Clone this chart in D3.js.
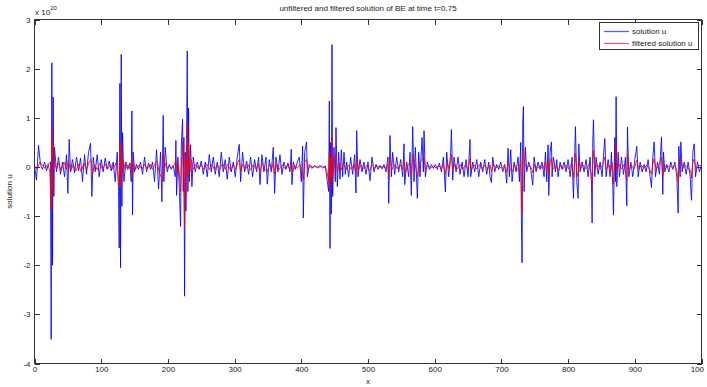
<!DOCTYPE html>
<html>
<head>
<meta charset="utf-8">
<script src="https://cdn.jsdelivr.net/npm/d3@7"></script>
<style>
	body { margin: 0; background: #fff; }
	svg { font-family: "Liberation Sans", Arial, sans-serif; }
	.axis text { font-size: 8px; fill: #222; }
	.axis line { stroke: #333; }
</style>
</head>
<body>
<div id="chartDiv"></div>
<script>
// solution u (unfiltered), [x, u / 1e20]
var solutionU = [
	[0,0.03],[3,-0.27],[6,0.44],[9,0.05],[12,-0.05],[15,0.1],[18,-0.08],[21,0.06],[24,0.1],
	[25,-3.51],[26,2.12],[27,-2.0],[28,1.42],[29,-0.6],[30,0.4],
	[33,-0.1],[36,0.2],[39,-0.15],[42,0.1],[45,-0.2],[48,0.25],[50,-0.54],[52,0.56],[54,-0.1],[57,0.15],
	[60,-0.12],[63,0.2],[66,-0.08],[69,0.18],[72,-0.3],[75,0.25],[78,-0.15],[81,0.3],[84,0.48],[86,-0.6],
	[88,0.2],[91,-0.1],[94,0.25],[97,-0.2],[100,0.15],[103,-0.1],[106,0.18],[109,-0.05],[112,0.12],[115,-0.08],
	[118,0.1],[121,-0.3],[124,0.3],[126,-0.5],
	[127,-1.65],[128,1.7],[129,-2.05],[130,2.29],[131,-0.8],[132,0.7],[134,-0.3],
	[137,0.1],[140,-0.05],[143,0.08],[145,-0.3],[146,1.14],[147,-0.98],[148,0.3],[150,-0.1],[153,0.05],
	[156,-0.05],[159,0.1],[162,-0.15],[165,0.2],[168,-0.1],[171,0.08],[174,-0.05],[177,0.1],[180,-0.3],
	[183,0.35],[186,-0.45],[189,0.3],[191,-0.71],[193,1.05],[194,-0.3],[196,0.4],[199,-0.1],[202,0.05],
	[205,-0.05],[208,0.03],[211,-0.2],[212,0.54],[213,-0.58],[215,0.2],[217,-0.4],
	[219,-1.21],[220,0.4],[222,0.97],[223,-0.5],[224,0.6],[225,-2.63],[226,0.3],[227,-0.9],[228,0.5],
	[229,2.36],[230,-0.5],[231,1.2],[232,-0.3],[234,0.45],[236,-0.4],[238,0.2],[241,-0.1],[244,0.1],
	[247,-0.05],[250,0.12],[253,-0.15],[256,0.1],[259,-0.2],[262,0.25],[265,-0.1],[268,0.2],[271,-0.15],
	[274,0.1],[277,-0.2],[280,0.3],[283,-0.1],[286,0.15],[289,-0.25],[292,0.2],[295,-0.1],[298,0.1],
	[301,-0.2],[304,0.2],[307,0.46],[309,-0.3],[312,0.3],[315,-0.1],[318,0.12],[321,-0.15],[324,0.2],
	[327,-0.2],[330,0.15],[333,-0.1],[336,0.2],[338,-0.36],[341,0.25],[344,-0.1],[347,0.2],[349,-0.35],
	[352,0.15],[355,-0.1],[358,0.4],[360,-0.54],[362,0.2],[365,-0.1],[368,0.25],[371,-0.15],[374,0.1],
	[377,-0.05],[380,0.08],[383,-0.1],[385,0.36],[386,-0.36],[388,0.1],[391,-0.05],[394,0.1],[397,0.2],
	[400,-0.3],[402,0.42],[403,-1.04],[405,0.3],[408,0.51],[409,-0.2],[412,0.05],[416,-0.03],[420,0.03],
	[424,-0.02],[428,0.03],[432,-0.02],[436,0.02],[439,-0.3],[441,-0.5],[442,1.34],[443,-1.66],[444,0.5],
	[445,-0.96],[446,2.49],[447,-0.6],[449,0.4],[451,-0.3],[452,0.8],[454,-0.4],[456,0.3],[458,-0.25],
	[460,0.35],[462,-0.2],[464,0.3],[466,-0.15],[468,0.1],[471,-0.2],[474,0.2],[477,-0.15],[480,0.25],
	[482,-0.53],[483,0.74],[485,-0.2],[488,0.15],[491,-0.1],[494,0.1],[497,-0.15],[500,0.1],[503,-0.28],
	[506,0.2],[509,-0.1],[512,0.05],[515,-0.05],[518,0.03],[521,-0.04],[524,0.05],[527,-0.1],[530,0.2],
	[531,-0.74],[533,0.64],[535,-0.2],[537,0.3],[540,-0.15],[543,0.2],[546,-0.1],[549,0.15],[552,-0.2],
	[554,0.47],[555,-0.36],[558,0.1],[561,-0.2],[563,0.3],[565,-0.58],[567,0.82],[569,-0.3],[571,0.4],
	[574,-0.64],[576,0.3],[578,-0.2],[581,0.6],[583,-0.1],[584,0.74],[586,-0.2],[589,0.1],[592,-0.05],
	[595,0.05],[598,-0.03],[601,0.05],[604,-0.05],[607,0.08],[610,-0.1],[613,0.2],[616,-0.51],[618,0.3],
	[621,-0.2],[624,0.3],[625,0.76],[627,-0.27],[629,0.2],[632,-0.1],[635,0.2],[638,-0.15],[641,0.1],
	[644,-0.2],[647,0.15],[650,-0.2],[653,0.56],[654,-0.2],[657,0.1],[660,-0.1],[663,0.15],[666,-0.2],
	[669,0.1],[672,-0.1],[675,0.15],[678,-0.15],[681,0.1],[683,-0.2],[685,-0.32],[687,0.2],[690,-0.1],
	[693,0.05],[696,-0.05],[699,0.1],[702,-0.1],[705,0.05],[708,-0.33],[710,0.38],[712,-0.2],[714,0.35],
	[716,-0.3],[719,0.1],[722,-0.1],[725,0.2],[727,-0.3],[729,0.5],[730,-1.08],[731,-1.95],[732,0.9],
	[733,1.23],[734,-0.5],[736,0.4],[738,-0.1],[741,0.1],[744,-0.05],[747,-0.37],[749,0.2],[752,-0.1],
	[755,0.1],[758,-0.05],[761,0.1],[764,-0.2],[766,0.3],[768,-0.3],[770,0.45],[771,-0.58],[773,0.3],
	[775,0.51],[776,-0.2],[778,0.2],[781,-0.1],[783,0.15],[785,-0.2],[788,0.1],[791,-0.05],[794,0.1],
	[797,-0.1],[800,0.15],[803,-0.2],[806,0.2],[808,-0.64],[810,0.3],[811,0.82],[813,-0.3],[815,-0.64],
	[816,0.47],[818,-0.1],[821,0.1],[824,-0.1],[827,0.15],[830,-0.2],[833,0.2],[835,-0.3],[836,-1.14],
	[837,0.5],[838,0.96],[840,-0.2],[842,0.2],[845,-0.15],[848,0.1],[851,-0.2],[853,0.2],[855,0.58],
	[857,-0.2],[860,0.15],[863,-0.2],[865,0.3],[867,-0.4],[868,-0.98],[870,0.6],[871,-0.3],[872,1.43],
	[873,-0.4],[875,0.3],[877,-0.2],[880,0.2],[883,-0.15],[886,0.2],[888,-0.79],[889,0.81],[891,-0.2],
	[894,0.1],[897,-0.2],[900,0.15],[903,0.42],[905,-0.2],[908,0.1],[911,-0.1],[914,0.05],[917,-0.1],
	[920,0.15],[923,-0.2],[925,-0.42],[927,0.2],[929,0.51],[931,-0.2],[934,0.1],[937,-0.15],[940,0.61],
	[942,-0.56],[943,0.3],[945,-0.1],[948,0.05],[951,-0.1],[954,0.1],[957,-0.05],[960,0.1],[963,-0.2],
	[965,-0.94],[966,0.42],[968,-0.2],[969,0.51],[971,-0.1],[974,0.1],[977,-0.15],[980,0.1],[983,-0.2],
	[985,-0.68],[987,0.3],[989,0.47],[991,-0.2],[994,0.1],[997,-0.1],[1000,0.05]
];

// filtered solution u, [x, u / 1e20]
var filteredU = [
	[0,0.02],[4,-0.05],[8,0.1],[12,0.03],[16,-0.03],[20,0.05],[23,-0.1],[25,-0.9],[26,0.8],[27,-0.6],
	[28,0.5],[30,0.1],[33,-0.05],[36,0.08],[40,-0.08],[44,0.1],[48,-0.05],[51,0.15],[54,-0.1],[58,0.05],
	[62,-0.08],[66,0.06],[70,-0.1],[74,0.08],[78,-0.05],[82,0.1],[85,0.15],[87,-0.15],[90,0.05],[94,-0.06],
	[98,0.08],[102,-0.05],[106,0.06],[110,-0.04],[114,0.05],[118,-0.05],[122,0.08],[125,-0.15],[127,-0.4],
	[128,0.4],[129,-0.41],[130,0.51],[131,-0.2],[133,0.15],[136,-0.05],[140,0.04],[144,-0.05],[146,0.2],
	[147,-0.2],[149,0.05],[153,-0.03],[157,0.04],[161,-0.05],[165,0.06],[169,-0.04],[173,0.05],[177,-0.05],
	[181,0.08],[184,0.12],[187,-0.12],[190,-0.2],[192,-0.3],[193,0.3],[195,0.1],[198,-0.03],[202,0.02],
	[206,-0.02],[210,0.05],[212,0.15],[214,-0.15],[216,0.05],[218,-0.3],[219,-0.5],[221,0.3],[222,0.5],
	[224,-0.3],[225,-1.25],[226,0.2],[227,-0.6],[229,0.9],[230,-0.2],[231,0.5],[233,-0.1],[235,0.15],
	[238,-0.05],[242,0.05],[246,-0.04],[250,0.04],[254,-0.05],[258,0.06],[262,-0.05],[266,0.05],[270,-0.06],
	[274,0.05],[278,-0.05],[282,0.08],[286,-0.05],[290,0.06],[294,-0.08],[298,0.05],[302,-0.05],[305,0.1],
	[307,0.15],[309,-0.1],[312,0.05],[316,-0.05],[320,0.05],[324,-0.06],[328,0.05],[332,-0.04],[336,0.06],
	[338,-0.12],[341,0.08],[345,-0.04],[349,-0.1],[352,0.05],[356,-0.03],[358,0.1],[360,-0.15],[363,0.06],
	[367,-0.05],[371,0.05],[375,-0.03],[379,0.03],[383,-0.04],[385,0.1],[387,-0.1],[390,0.03],[394,-0.03],
	[398,0.05],[401,-0.1],[403,-0.25],[405,0.1],[408,0.15],[410,-0.05],[414,0.02],[418,-0.01],[422,0.01],
	[426,-0.01],[430,0.01],[434,-0.01],[438,-0.05],[441,-0.3],[442,0.3],[443,-0.48],[444,0.2],[445,-0.3],
	[446,0.61],[447,-0.2],[449,0.15],[452,0.25],[454,-0.1],[457,0.08],[460,-0.06],[463,0.08],[467,-0.05],
	[471,0.04],[475,-0.05],[479,0.06],[482,-0.15],[483,0.2],[486,-0.05],[490,0.04],[494,-0.04],[498,0.03],
	[502,-0.08],[506,0.04],[510,-0.02],[514,0.02],[518,-0.01],[522,0.01],[526,-0.02],[530,0.05],[531,-0.25],
	[533,0.2],[536,-0.05],[540,0.05],[544,-0.04],[548,0.04],[552,-0.05],[554,0.15],[556,-0.12],[560,0.05],
	[563,0.08],[565,-0.2],[567,0.25],[570,0.1],[574,-0.2],[577,0.08],[581,0.15],[584,0.2],[586,-0.05],
	[590,0.03],[594,-0.02],[598,0.02],[602,-0.02],[606,0.03],[610,-0.04],[613,0.06],[616,-0.15],[619,0.08],
	[622,-0.05],[625,0.25],[627,-0.08],[630,0.05],[634,-0.04],[638,0.05],[642,-0.05],[646,0.04],[650,-0.05],
	[653,0.18],[655,-0.06],[659,0.04],[663,-0.04],[667,0.05],[671,-0.04],[675,0.04],[679,-0.05],[683,0.04],
	[685,-0.1],[688,0.05],[692,-0.02],[696,0.02],[700,-0.03],[704,0.03],[708,-0.1],[710,0.12],[713,-0.05],
	[716,-0.1],[720,0.04],[724,-0.05],[727,-0.1],[729,0.15],[730,-0.5],[731,-0.92],[732,0.3],[733,0.38],
	[735,0.05],[738,-0.03],[742,0.04],[746,-0.05],[747,-0.12],[750,0.05],[754,-0.03],[758,0.03],[762,-0.04],
	[766,0.1],[768,-0.1],[770,0.15],[771,-0.2],[773,0.1],[775,0.18],[777,-0.05],[781,0.04],[785,-0.07],
	[789,0.04],[793,-0.03],[797,0.04],[801,-0.04],[805,0.06],[808,-0.22],[810,0.1],[811,0.28],[813,-0.1],
	[815,-0.2],[816,0.15],[819,-0.03],[823,0.03],[827,-0.04],[831,0.05],[834,-0.1],[836,-0.38],[837,0.15],
	[838,0.33],[840,-0.05],[844,0.05],[848,-0.04],[852,0.05],[855,0.2],[857,-0.06],[861,0.04],[864,-0.08],
	[866,0.1],[868,-0.35],[870,0.2],[872,0.48],[873,-0.1],[876,0.06],[880,-0.04],[884,0.05],[888,-0.27],
	[889,0.28],[891,-0.05],[895,0.03],[899,-0.04],[903,0.14],[906,-0.05],[910,0.03],[914,-0.03],[918,0.04],
	[922,-0.05],[925,-0.15],[927,0.06],[929,0.17],[932,-0.05],[936,0.03],[940,0.2],[942,-0.2],[944,0.05],
	[948,-0.02],[952,0.03],[956,-0.02],[960,0.03],[963,-0.06],[965,-0.32],[967,0.12],[969,0.17],[972,-0.03],
	[976,0.03],[980,-0.04],[984,-0.08],[985,-0.23],[987,0.1],[989,0.16],[992,-0.05],[996,0.03],[1000,0.02]
];

var xTicks = [0, 100, 200, 300, 400, 500, 600, 700, 800, 900, 1000];
// the last label is cut off at the figure edge in the original
var xTickLabels = ["0", "100", "200", "300", "400", "500", "600", "700", "800", "900", "100"];
var yTicks = [-4, -3, -2, -1, 0, 1, 2, 3];
var seriesNames = ["solution u", "filtered solution u"];
var seriesColors = ["#0000ff", "#ff0000"];

var width = 707;
var height = 387;
var plot = { left: 34.5, right: 701.5, top: 19.5, bottom: 363.5 };
var tickLen = 5;

var svg = d3.select("#chartDiv").append("svg")
	.attr("width", width)
	.attr("height", height);

var xScale = d3.scaleLinear().domain([0, 1000]).range([plot.left, plot.right]);
var yScale = d3.scaleLinear().domain([-4, 3]).range([plot.bottom, plot.top]);

// clip so lines stay in the box
svg.append("clipPath").attr("id", "clip")
	.append("rect")
	.attr("x", plot.left).attr("y", plot.top)
	.attr("width", plot.right - plot.left).attr("height", plot.bottom - plot.top);

var line = d3.line()
	.x(function(d) { return xScale(d[0]); })
	.y(function(d) { return yScale(d[1]); });

var lines = svg.append("g").attr("clip-path", "url(#clip)");

[solutionU, filteredU].forEach(function(series, i) {
	lines.append("path")
		.datum(series)
		.style("fill", "none")
		.style("stroke", seriesColors[i])
		.style("stroke-width", 0.85)
		.attr("d", line);
});

// axes, ticks pointing inward like matlab
svg.append("g")
	.attr("class", "axis")
	.attr("transform", "translate(0," + plot.bottom + ")")
	.call(d3.axisBottom(xScale)
		.tickValues(xTicks)
		.tickSizeInner(-tickLen)
		.tickSizeOuter(0)
		.tickPadding(3)
		.tickFormat(function(d, i) { return xTickLabels[i]; }))
	.call(function(g) {
		g.select(".domain").remove();
		// last label sits flush with the right edge
		g.selectAll(".tick").filter(function(d) { return d === 1000; })
			.select("text")
			.attr("text-anchor", "end")
			.attr("x", 2);
	});

svg.append("g")
	.attr("class", "axis")
	.attr("transform", "translate(0," + plot.top + ")")
	.call(d3.axisTop(xScale).tickValues(xTicks).tickSizeInner(-tickLen).tickSizeOuter(0).tickFormat(""))
	.call(function(g) { g.select(".domain").remove(); });

svg.append("g")
	.attr("class", "axis")
	.attr("transform", "translate(" + plot.left + ",0)")
	.call(d3.axisLeft(yScale)
		.tickValues(yTicks)
		.tickSizeInner(-tickLen)
		.tickSizeOuter(0)
		.tickPadding(4)
		.tickFormat(function(d) { return String(d); }))
	.call(function(g) { g.select(".domain").remove(); });

svg.append("g")
	.attr("class", "axis")
	.attr("transform", "translate(" + plot.right + ",0)")
	.call(d3.axisRight(yScale).tickValues(yTicks).tickSizeInner(-tickLen).tickSizeOuter(0).tickFormat(""))
	.call(function(g) { g.select(".domain").remove(); });

svg.selectAll(".axis line").attr("shape-rendering", "crispEdges");

// box
svg.append("rect")
	.attr("x", plot.left).attr("y", plot.top)
	.attr("width", plot.right - plot.left).attr("height", plot.bottom - plot.top)
	.style("fill", "none")
	.style("stroke", "#333")
	.attr("shape-rendering", "crispEdges");

// exponent label
var expo = svg.append("text")
	.attr("x", 35).attr("y", 15)
	.style("font-size", "8px")
	.style("fill", "#222");
expo.append("tspan").text("x 10");
expo.append("tspan").attr("dy", -5).style("font-size", "6px").text("20");

// title
svg.append("text")
	.attr("x", (plot.left + plot.right) / 2).attr("y", 11)
	.attr("text-anchor", "middle")
	.style("font-size", "8px")
	.style("fill", "#222")
	.text("unfiltered and filtered solution of BE at time t=0.75");

// x label
svg.append("text")
	.attr("x", (plot.left + plot.right) / 2).attr("y", 384)
	.attr("text-anchor", "middle")
	.style("font-size", "8px")
	.style("fill", "#222")
	.text("x");

// y label
svg.append("text")
	.attr("transform", "translate(12," + ((plot.top + plot.bottom) / 2) + ") rotate(-90)")
	.attr("text-anchor", "middle")
	.style("font-size", "8px")
	.style("fill", "#222")
	.text("solution u");

// legend
var legend = svg.append("g");
legend.append("rect")
	.attr("x", 599.5).attr("y", 22.5)
	.attr("width", 99).attr("height", 27)
	.style("fill", "#fff")
	.style("stroke", "#333")
	.attr("shape-rendering", "crispEdges");

var legendLineColors = ["#5a5aff", "#ff5a5a"];
seriesNames.forEach(function(name, i) {
	var ly = 31 + i * 12;
	legend.append("line")
		.attr("x1", 604).attr("x2", 629)
		.attr("y1", ly + 0.5).attr("y2", ly + 0.5)
		.style("stroke", legendLineColors[i])
		.style("stroke-width", 1.3);
	legend.append("text")
		.attr("x", 632).attr("y", ly + 3)
		.style("font-size", "8px")
		.style("fill", "#222")
		.text(name);
});
</script>
</body>
</html>
